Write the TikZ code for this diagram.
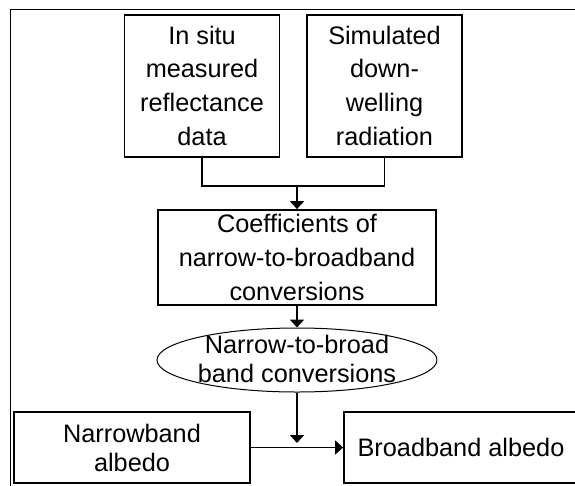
\documentclass[tikz,border=0pt]{standalone}
\usepackage{fontspec}
\setmainfont{Liberation Sans}
\usetikzlibrary{shapes.geometric,arrows.meta}
\begin{document}
\begin{tikzpicture}[x=1pt,y=-1pt,
  every node/.style={font=\fontsize{25.3}{33.6}\selectfont},
  stepbox/.style={draw, line width=1.8pt, inner sep=0pt, align=center},
  flow/.style={line width=1.8pt, -{Triangle[width=14pt,length=8pt]}},
  link/.style={line width=1.8pt},
  tight/.style={font=\fontsize{25.3}{29}\selectfont}]
\useasboundingbox (0,0) rectangle (575,485);
\clip (0,0) rectangle (575,485);
% outer frame
\draw[line width=1pt] (10,9) rectangle (600,510);
% input boxes
\node[stepbox, minimum width=155pt, minimum height=142pt] (meas) at (202,85.7)
  {In situ\\measured\\reflectance\\data};
\node[stepbox, minimum width=155pt, minimum height=142pt] (sim) at (384.5,85.7)
  {Simulated\\down-\\welling\\radiation};
% coefficients
\node[stepbox, minimum width=278pt, minimum height=95pt] (coef) at (297,257.5)
  {Coefficients of\\narrow-to-broadband\\conversions};
% conversion ellipse
\node[ellipse, draw, line width=1pt, inner sep=0pt, minimum width=280pt, minimum height=64pt] (conv) at (297,360) {};
\node[tight, align=center, inner sep=0pt] (convtext) at (297,359) {Narrow-to-broad\\band conversions};
% albedo boxes
\node[stepbox, tight, minimum width=236pt, minimum height=71pt] (nb) at (132,447.5)
  {Narrowband\\albedo};
\node[stepbox, minimum width=234pt, minimum height=71pt] (bb) at (461,447.5)
  {Broadband albedo};
% connectors
\coordinate (join) at (297,186);
\coordinate (hit) at (297,443);
\draw[link] (meas.south) |- (join) -| (sim.south);
\draw[flow] (join) -- (coef.north);
\draw[flow] (coef.south) -- (conv.north);
\draw[flow] (conv.south) -- (hit);
\draw[flow] (nb.east) -- (bb.west);
\end{tikzpicture}
\end{document}
